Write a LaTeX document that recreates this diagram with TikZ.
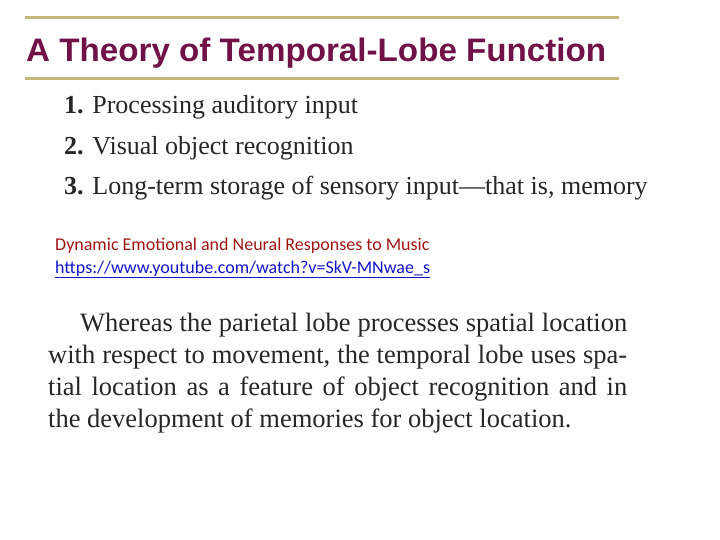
\documentclass[tikz,border=0pt]{standalone}
\usepackage{fontspec}
\setmainfont{Liberation Serif}
\newfontfamily\titlefont{Liberation Sans}
\newfontfamily\notefont{Carlito}
\definecolor{titlepurple}{RGB}{112,18,72}
\definecolor{rulekhaki}{RGB}{196,184,122}
\definecolor{notered}{RGB}{160,20,20}
\definecolor{linkblue}{RGB}{20,20,200}
\tikzset{
  item/.style={anchor=base west, inner sep=0pt, font=\fontsize{26}{26}\selectfont, text=black!85},
  para/.style={anchor=base west, inner sep=0pt, font=\fontsize{26.5}{26.5}\selectfont, text=black!85},
  note/.style={anchor=base west, inner sep=0pt, font=\notefont\fontsize{18}{18}\selectfont}
}
\begin{document}
\begin{tikzpicture}[x=1pt,y=1pt,yscale=-1]
\useasboundingbox (0,0) rectangle (720,540);
% rules and title
\draw[rulekhaki, line width=3pt] (25,18) -- (619,18);
\draw[rulekhaki, line width=3pt] (25,79) -- (619,79);
\node (title) [anchor=base west, inner sep=0pt, text=titlepurple, font=\titlefont\bfseries\fontsize{31}{31}\selectfont] at (26,62) {\resizebox{580pt}{!}{\scalebox{1}[0.98]{A Theory of Temporal-Lobe Function}}};
% list
\node (i1) [item] at (64,114) {\textbf{1.} Processing auditory input};
\node (i2) [item] at (64,155) {\textbf{2.} Visual object recognition};
\node (i3) [item] at (64,195) {\textbf{3.} Long-term storage of sensory input---that is, memory};
% video note
\node (vid) [note, text=notered] at (55,251) {Dynamic Emotional and Neural Responses to Music};
\node (url) [note, text=linkblue] at (55,273) {\underline{https://www.youtube.com/watch?v=SkV-MNwae\_s}};
% paragraph
\node (p1) [para] at (80,331) {\makebox[547pt][s]{Whereas the parietal lobe processes spatial location}};
\node (p2) [para] at (48,363) {\makebox[579pt][s]{with respect to movement, the temporal lobe uses spa-}};
\node (p3) [para] at (48,395) {\makebox[579pt][s]{tial location as a feature of object recognition and in}};
\node (p4) [para] at (48,427) {the development of memories for object location.};
\end{tikzpicture}
\end{document}
